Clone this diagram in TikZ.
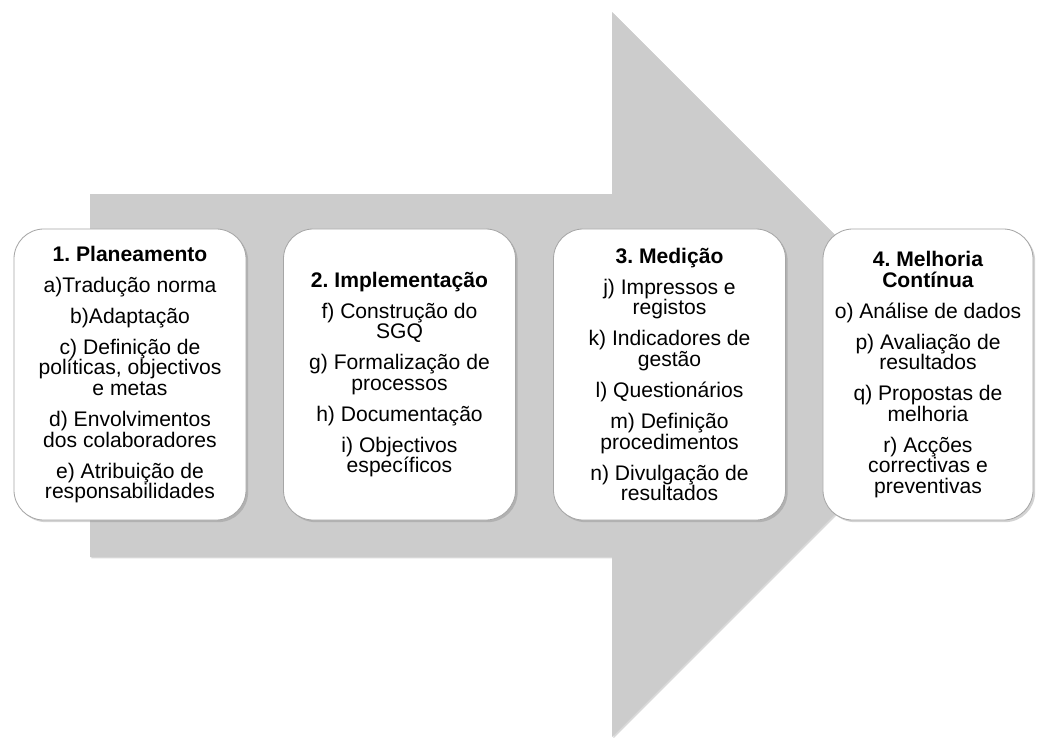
\documentclass[tikz,border=0pt]{standalone}
\usepackage{fontspec}
\setmainfont{Liberation Sans}
\frenchspacing
\usetikzlibrary{shadows}
\definecolor{arrowgrey}{RGB}{204,204,204}

\tikzset{
  stage/.style={draw=gray!70, line width=0.6pt, fill=white, rounded corners=0.75cm,
    minimum width=5.8cm, minimum height=7.275cm, align=center,
    font=\fontsize{15pt}{14.6pt}\selectfont,
    drop shadow={shadow xshift=1.5pt, shadow yshift=-1.5pt, opacity=0.35}}
}

\begin{document}
\begin{tikzpicture}[x=0.025cm, y=-0.025cm]
        \useasboundingbox (0,0) rectangle (1044,737);
        % Big arrow in the background
        \fill[arrowgrey, drop shadow={shadow xshift=1pt, shadow yshift=-1pt, opacity=0.3}]
          (90,194) -- (612,194) -- (612,12) -- (974.5,374.5) -- (612,737)
          -- (612,557) -- (90,557) -- cycle;
        % Stage 1
        \node[stage] (plan) at (130,374.5) {
          \textbf{1. Planeamento}\\[7.5pt]
          a)Tradução norma\\[7.5pt]
          b)Adaptação\\[7.5pt]
          c) Definição de\\ políticas, objectivos\\ e metas\\[7.5pt]
          d) Envolvimentos\\ dos colaboradores\\[7.5pt]
          e) Atribuição de\\ responsabilidades
        };
        % Stage 2
        \node[stage] (impl) at (399.5,374.5) {
          \textbf{2. Implementação}\\[7.5pt]
          f) Construção do\\ SGQ\\[7.5pt]
          g) Formalização de\\ processos\\[7.5pt]
          h) Documentação\\[7.5pt]
          i) Objectivos\\ específicos
        };
        % Stage 3
        \node[stage] (medi) at (669.5,374.5) {
          \textbf{3. Medição}\\[7.5pt]
          j) Impressos e\\ registos\\[7.5pt]
          k) Indicadores de\\ gestão\\[7.5pt]
          l) Questionários\\[7.5pt]
          m) Definição\\ procedimentos\\[7.5pt]
          n) Divulgação de\\ resultados
        };
        % Stage 4
        \node[stage, minimum width=5.25cm] (melh) at (928,374.5) {
          \textbf{4. Melhoria}\\ \textbf{Contínua}\\[7.5pt]
          o) Análise de dados\\[7.5pt]
          p) Avaliação de\\ resultados\\[7.5pt]
          q) Propostas de\\ melhoria\\[7.5pt]
          r) Acções\\ correctivas e\\ preventivas
        };
      \end{tikzpicture}
\end{document}
